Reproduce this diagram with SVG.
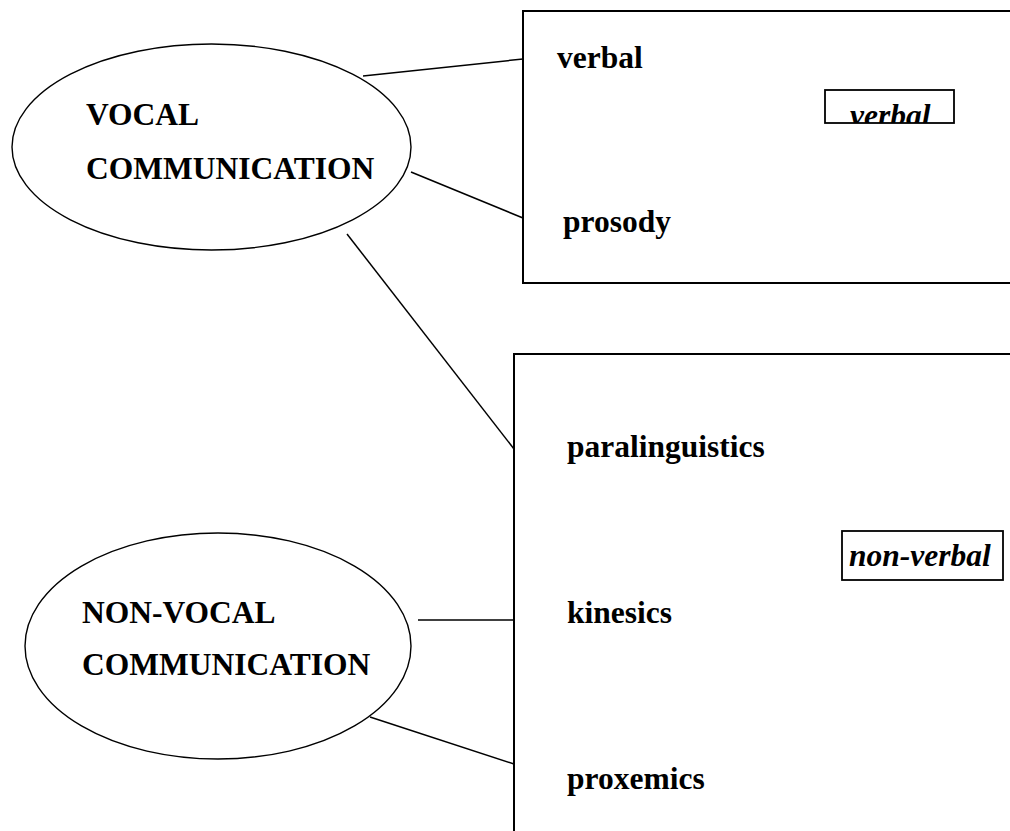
<svg xmlns="http://www.w3.org/2000/svg" width="1010" height="831" viewBox="0 0 1010 831">
  <defs>
    <style>
      .lbl { font-family: "Liberation Serif", "Times New Roman", serif; font-weight: bold; font-size: 31.5px; fill: #000; }
      .it { font-style: italic; }
      .box { fill: none; stroke: #000; stroke-width: 2; }
      .tag { fill: none; stroke: #000; stroke-width: 1.8; }
      .ell { fill: none; stroke: #000; stroke-width: 1.4; }
      .conn line { stroke: #000; stroke-width: 1.5; }
    </style>
    <clipPath id="clipVerbal">
      <rect x="825" y="90" width="129" height="33"/>
    </clipPath>
  </defs>
  <rect width="1010" height="831" fill="#fff"/>

  <g id="connectors" class="conn">
    <line x1="363" y1="76" x2="523" y2="59"/>
    <line x1="411" y1="172" x2="523" y2="218"/>
    <line x1="347" y1="234" x2="514" y2="449"/>
    <line x1="418" y1="620" x2="514" y2="620"/>
    <line x1="370" y1="717" x2="514" y2="764"/>
  </g>

  <g id="vocal">
    <ellipse class="ell" cx="211.5" cy="147" rx="199.5" ry="103"/>
    <text class="lbl" x="86" y="125">VOCAL</text>
    <text class="lbl" x="86" y="179">COMMUNICATION</text>
  </g>

  <g id="nonvocal">
    <ellipse class="ell" cx="218" cy="646" rx="193" ry="113"/>
    <text class="lbl" x="82" y="623">NON-VOCAL</text>
    <text class="lbl" x="82" y="675">COMMUNICATION</text>
  </g>

  <g id="verbal-box">
    <rect class="box" x="523" y="11" width="500" height="272"/>
    <text class="lbl" x="557" y="68">verbal</text>
    <text class="lbl" x="563" y="232">prosody</text>
    <rect class="tag" x="825" y="90" width="129" height="33"/>
    <text class="lbl it" x="850" y="126" clip-path="url(#clipVerbal)">verbal</text>
  </g>

  <g id="nonverbal-box">
    <rect class="box" x="514" y="354" width="510" height="500"/>
    <text class="lbl" x="567" y="457">paralinguistics</text>
    <text class="lbl" x="567" y="623">kinesics</text>
    <text class="lbl" x="567" y="789">proxemics</text>
    <rect class="tag" x="842" y="531" width="161" height="49"/>
    <text class="lbl it" x="849" y="566">non-verbal</text>
  </g>
</svg>
